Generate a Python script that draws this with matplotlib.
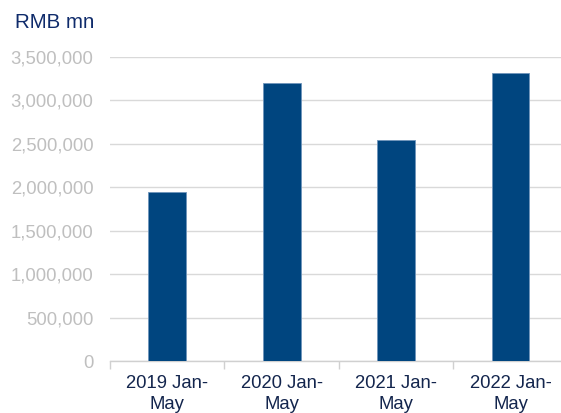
import matplotlib
matplotlib.use("Agg")
import matplotlib.pyplot as plt
from matplotlib.ticker import FuncFormatter, FixedLocator

categories = ["2019 Jan-\nMay", "2020 Jan-\nMay", "2021 Jan-\nMay", "2022 Jan-\nMay"]
values = [1940000, 3197000, 2545000, 3316000]
yticks = [0, 500000, 1000000, 1500000, 2000000, 2500000, 3000000, 3500000]

plt.rcParams['font.family'] = ['Liberation Sans', 'DejaVu Sans']

fig = plt.figure(figsize=(5.61, 4.13), dpi=100)
ax = fig.add_axes([110/561, 52/413, 457.7/561, 304/413])

x = list(range(len(categories)))
ax.bar(x, values, width=0.33, color='#00457f', edgecolor='#6f94bb', linewidth=0.6, zorder=3)

ax.set_xlim(-0.5, len(categories) - 0.5)
ax.set_ylim(0, 3500000)
ax.set_yticks(yticks)
ax.yaxis.set_major_formatter(FuncFormatter(lambda v, p: f"{int(v):,}"))
ax.grid(axis='y', color='#d9d9d9', linewidth=1.0, zorder=0)
ax.set_axisbelow(True)

ax.set_xticks(x)
ax.set_xticklabels(categories, linespacing=1.35)
ax.xaxis.set_minor_locator(FixedLocator([i - 0.5 for i in range(len(categories) + 1)]))
ax.tick_params(axis='x', which='major', length=0, pad=10, labelsize=13.3, labelcolor='#13254d')
ax.tick_params(axis='x', which='minor', length=6, color='#d0d0d0', width=1)
ax.tick_params(axis='y', length=0, pad=12, labelsize=13.3, labelcolor='#bfbfbf')

for s in ['top', 'right', 'left']:
    ax.spines[s].set_visible(False)
ax.spines['bottom'].set_color('#d0d0d0')
ax.spines['bottom'].set_linewidth(1)

fig.text(15/561, 1 - 22/413, "RMB mn", fontsize=14.8, color='#0f2b6b', va='center', ha='left')

fig.savefig("out.png", dpi=100)
